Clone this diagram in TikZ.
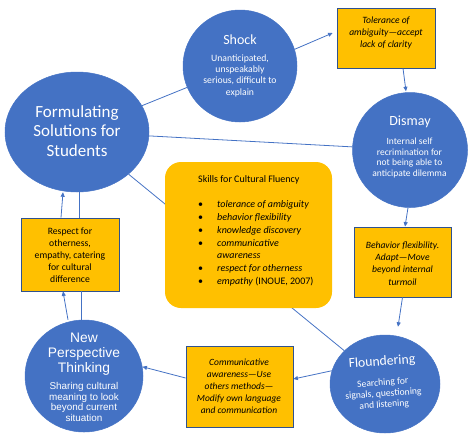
\documentclass[tikz,border=0pt]{standalone}
\usepackage{fontspec}
\setmainfont{Carlito}
\newfontfamily\arialf{Liberation Sans}
\usetikzlibrary{shapes.geometric,arrows.meta,calc}
\definecolor{cblue}{HTML}{4472C4}
\definecolor{cedge}{HTML}{2F528F}
\definecolor{corange}{HTML}{FFC000}
\newcommand{\fsz}[2]{\fontsize{#1}{#2}\selectfont}
\begin{document}
\begin{tikzpicture}[x=1pt,y=-1pt,
  blob/.style={ellipse,fill=cblue,draw=cblue,inner sep=0pt,line width=0.5pt},
  obox/.style={rectangle,fill=corange,draw=cedge,line width=0.8pt,inner sep=0pt},
  wtxt/.style={text=white,align=center,inner sep=0pt},
  btxt/.style={text=black,align=center,inner sep=0pt},
  conn/.style={draw=cblue,line width=0.8pt},
  arr/.style={conn,-{Triangle[length=4.5pt,width=4pt]}}]
\useasboundingbox (0,0) rectangle (473,442);

% circles
\node[blob,minimum width=144pt,minimum height=120pt] (form) at (77,132) {};
\node[blob,minimum width=114pt,minimum height=112pt] (shock) at (240,66) {};
\node[blob,minimum width=115pt,minimum height=115pt] (dismay) at (410,150) {};
\node[blob,minimum width=110pt,minimum height=98pt] (flound) at (385,384) {};
\node[blob,minimum width=118pt,minimum height=112pt] (newp) at (84,376) {};

% boxes
\node[obox,minimum width=98pt,minimum height=60pt] (tol) at (386,38) {};
\node[obox,minimum width=97pt,minimum height=70pt] (beh) at (402.5,262) {};
\node[obox,minimum width=107pt,minimum height=81pt] (comm) at (239.5,386.5) {};
\node[obox,minimum width=98pt,minimum height=73pt] (resp) at (70,254.5) {};

% plain lines from Formulating
\draw[conn] (form) -- (shock);
\draw[conn] (form) -- (dismay);
\draw[conn] (form) -- (flound);

% skills box
\node[fill=corange,rounded corners=16pt,minimum width=167pt,minimum height=146pt,inner sep=0pt] (skills) at (248.5,235) {};
\node[anchor=north west,inner sep=0pt,font=\fsz{10}{12.7},align=left] (skillsT) at (198,173.5)
{\begin{tabular}[t]{@{}p{19pt}@{}l@{}}
\multicolumn{2}{@{}l@{}}{Skills for Cultural Fluency}\\
 & \\
\textbullet & \textit{tolerance of ambiguity}\\
\textbullet & \textit{behavior flexibility}\\
\textbullet & \textit{knowledge discovery}\\
\textbullet & \textit{communicative}\\
 & \textit{awareness}\\
\textbullet & \textit{respect for otherness}\\
\textbullet & \textit{empathy} (INOUE, 2007)
\end{tabular}};

% arrows
\draw[arr] (shock.17) -- ([xshift=-4pt,yshift=5pt]tol.west);
\draw[arr] ([xshift=17pt]tol.south) -- ([xshift=-4pt,yshift=1pt]dismay.north);
\draw[arr] ([xshift=-2pt]dismay.south) -- ([xshift=2.5pt]beh.north);
\draw[arr] (beh.south) -- ([xshift=13pt,yshift=8pt]flound.north);
\draw[arr] (flound.166) -- ([yshift=7.5pt]comm.east);
\draw[arr] ([yshift=8.5pt]comm.west) -- (newp.9);
\draw[arr] ([xshift=-16pt]newp.north) -- ([xshift=-7pt]resp.south);
\draw[conn] ([xshift=-3pt]newp.north) -- ([xshift=11pt]resp.south);
\draw[arr] ([xshift=-9pt]resp.north) -- ([xshift=-14pt]form.south);
\draw[conn] ([xshift=9pt]resp.north) -- ([xshift=2pt]form.south);

% circle texts
\node[wtxt,font=\fsz{17}{19.5}] (formT) at (77,131) {Formulating\\Solutions for\\Students};
\node[wtxt,font=\fsz{14}{16}] (shockT) at (240,40) {Shock};
\node[wtxt,font=\fsz{9.7}{11.3}] (shockD) at (240,75.5) {Unanticipated,\\unspeakably\\serious, difficult to\\explain};
\node[wtxt,font=\fsz{14}{16}] (dismayT) at (410,122) {Dismay};
\node[wtxt,font=\fsz{9.5}{10.5}] (dismayD) at (409.5,158) {Internal self\\recrimination for\\not being able to\\anticipate dilemma};
\node[wtxt,font=\fsz{13.7}{16},rotate=4] (floundT) at (382,362) {Floundering};
\node[wtxt,font=\fsz{9.6}{11},rotate=4] (floundD) at (383.5,394) {Searching for\\signals, questioning\\and listening};
\node[wtxt,font=\arialf\fsz{13.8}{15}] (newpT) at (84,354) {New\\Perspective\\Thinking};
\node[wtxt,font=\arialf\fsz{9.9}{10.5}] (newpD) at (84,402) {Sharing cultural\\meaning to look\\beyond current\\situation};

% box texts
\node[btxt,font=\itshape\fsz{9.6}{12}] (tolT) at (386,32.5) {Tolerance of\\ambiguity---accept\\lack of clarity};
\node[btxt,font=\itshape\fsz{9.6}{12.3}] (behT) at (402.5,263.5) {Behavior flexibility.\\Adapt---Move\\beyond internal\\turmoil};
\node[btxt,font=\itshape\fsz{9.5}{12}] (commT) at (239,386.5) {Communicative\\awareness---Use\\others methods---\\Modify own language\\and communication};
\node[btxt,font=\fsz{9.7}{12}] (respT) at (70,255.5) {Respect for\\otherness,\\empathy, catering\\for cultural\\difference};
\end{tikzpicture}
\end{document}
